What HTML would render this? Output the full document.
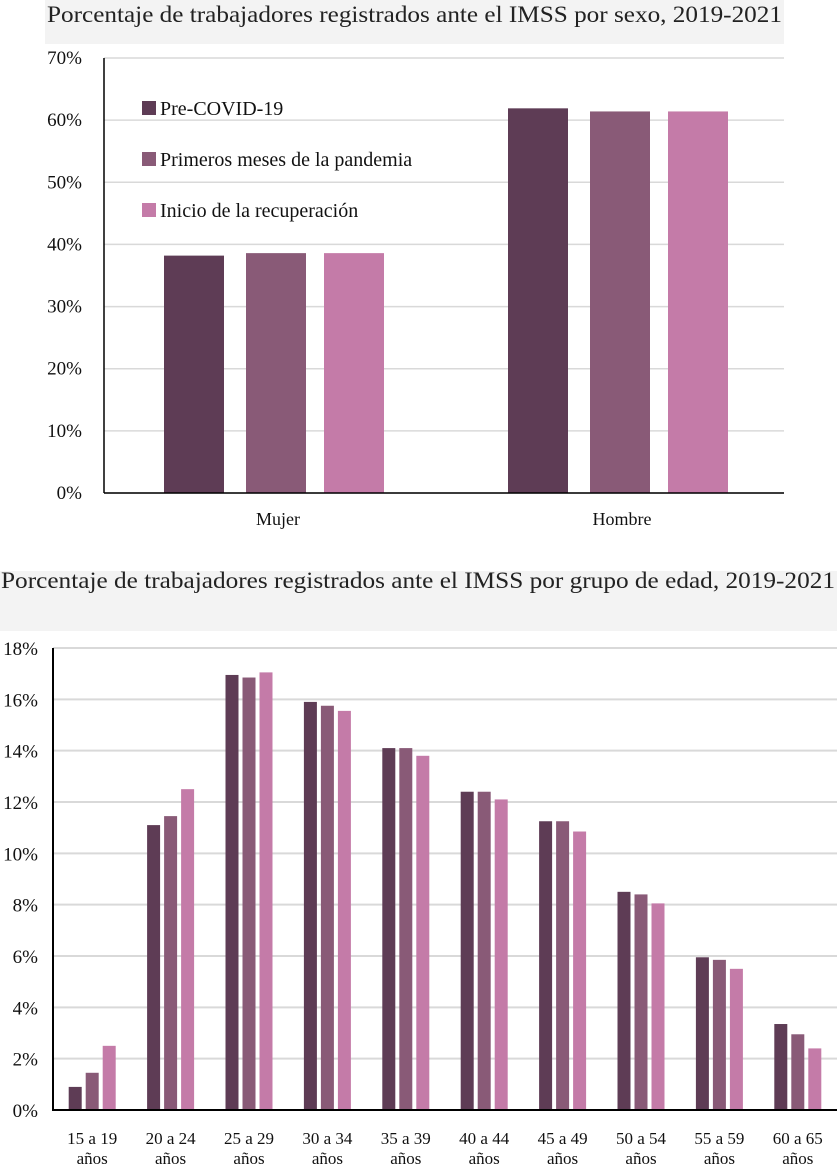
<!DOCTYPE html>
<html><head><meta charset="utf-8"><style>
body{margin:0;background:#fff}
svg{display:block;font-family:"Liberation Serif",serif}
</style></head><body>
<svg id="c" width="837" height="1166" viewBox="0 0 837 1166">
<rect x="45" y="0" width="739" height="44" fill="#f3f3f3"/>
<text x="47" y="22" font-size="23" textLength="735" lengthAdjust="spacingAndGlyphs" fill="#222">Porcentaje de trabajadores registrados ante el IMSS por sexo, 2019-2021</text>
<rect x="0" y="571" width="837" height="60" fill="#f3f3f3"/>
<text x="1" y="588" font-size="23" textLength="834" lengthAdjust="spacingAndGlyphs" fill="#222">Porcentaje de trabajadores registrados ante el IMSS por grupo de edad, 2019-2021</text>
<g id="g1"></g><g id="g2"></g>
</svg>
<script>
const colors=["#5e3c55","#895a77","#c47ba8"];
const seriesNames=["Pre-COVID-19","Primeros meses de la pandemia","Inicio de la recuperación"];
const sexCats=["Mujer","Hombre"];
const sexPre=[38.2,61.9];
const sexPrim=[38.6,61.4];
const sexIni=[38.6,61.4];
const sexTicks=[0,10,20,30,40,50,60,70];
const ageCats=["15 a 19","20 a 24","25 a 29","30 a 34","35 a 39","40 a 44","45 a 49","50 a 54","55 a 59","60 a 65"];
const agePre=[0.9,11.1,16.95,15.9,14.1,12.4,11.25,8.5,5.95,3.35];
const agePrim=[1.45,11.45,16.85,15.75,14.1,12.4,11.25,8.4,5.85,2.95];
const ageIni=[2.5,12.5,17.05,15.55,13.8,12.1,10.85,8.05,5.5,2.4];
const ageTicks=[0,2,4,6,8,10,12,14,16,18];
const NS="http://www.w3.org/2000/svg";
function mk(p,t,a,txt){const e=document.createElementNS(NS,t);for(const k in a)e.setAttribute(k,a[k]);if(txt!=null)e.textContent=txt;p.appendChild(e);return e;}

// chart 1
(function(){
const g=document.getElementById('g1');
const x0=104,x1=784,y0=493,yTop=58,max=70;
const y=v=>y0-(v/max)*(y0-yTop);
const cw=(x1-x0)/sexCats.length;
sexTicks.forEach(t=>{
 const gl=mk(g,'line',{x1:x0,x2:x1,y1:y(t),y2:y(t),stroke:'#d9d9d9','stroke-width':1.5});
 
 
 const tl=mk(g,'text',{x:82,y:y(t)+6,'font-size':19,'text-anchor':'end',fill:'#111'},t+'%');
 
 
});
const series=[sexPre,sexPrim,sexIni];
const offs=[-110,-28,50],bw=60;
sexCats.forEach((c,i)=>{
 const cx=x0+cw*(i+0.5)+(i?4:0);
 series.forEach((s,j)=>{
  const r=mk(g,'rect',{x:cx+offs[j],y:y(s[i]),width:bw,height:y0-y(s[i]),fill:colors[j]});
  
  
 });
 const l=mk(g,'text',{x:cx+4,y:525,'font-size':18,'text-anchor':'middle',fill:'#111'},c);
 
 
});
const ax=mk(g,'line',{x1:x0,x2:x0,y1:yTop,y2:y0,stroke:'#000','stroke-width':1.5});


const bx=mk(g,'line',{x1:x0,x2:x1,y1:y0,y2:y0,stroke:'#000','stroke-width':1.5});


seriesNames.forEach((n,j)=>{
 const ly=108+j*51;
 const s=mk(g,'rect',{x:142,y:ly-7,width:14,height:14,fill:colors[j]});
 
 
 const t=mk(g,'text',{x:160,y:ly+7,'font-size':20,fill:'#111'},n);
 
 
});
})();

// chart 2
(function(){
const g=document.getElementById('g2');
const x0=53,x1=837,y0=1110,yTop=648,max=18;
const y=v=>y0-(v/max)*(y0-yTop);
const cw=(x1-x0)/ageCats.length;
ageTicks.forEach(t=>{
 const gl=mk(g,'line',{x1:x0,x2:x1,y1:y(t),y2:y(t),stroke:'#d9d9d9','stroke-width':2});
 
 
 const tl=mk(g,'text',{x:38,y:y(t)+7,'font-size':19,'text-anchor':'end',fill:'#111'},t+'%');
 
 
});
const series=[agePre,agePrim,ageIni];
const bw=13,step=17;
ageCats.forEach((c,i)=>{
 const cx=x0+cw*(i+0.5);
 series.forEach((s,j)=>{
  const r=mk(g,'rect',{x:cx+(j-1)*step-bw/2,y:y(s[i]),width:bw,height:y0-y(s[i]),fill:colors[j]});
  
  
 });
 const l=mk(g,'text',{x:cx,y:1144,'font-size':17,'text-anchor':'middle',fill:'#111'},c);
 
 
 const l2=mk(g,'text',{x:cx,y:1164,'font-size':17,'text-anchor':'middle',fill:'#111'},'años');
 
 
});
const ax=mk(g,'line',{x1:x0,x2:x0,y1:yTop,y2:y0+1,stroke:'#000','stroke-width':2});


const bx=mk(g,'line',{x1:x0,x2:x1,y1:y0,y2:y0,stroke:'#000','stroke-width':2});


})();
</script>
</body></html>
